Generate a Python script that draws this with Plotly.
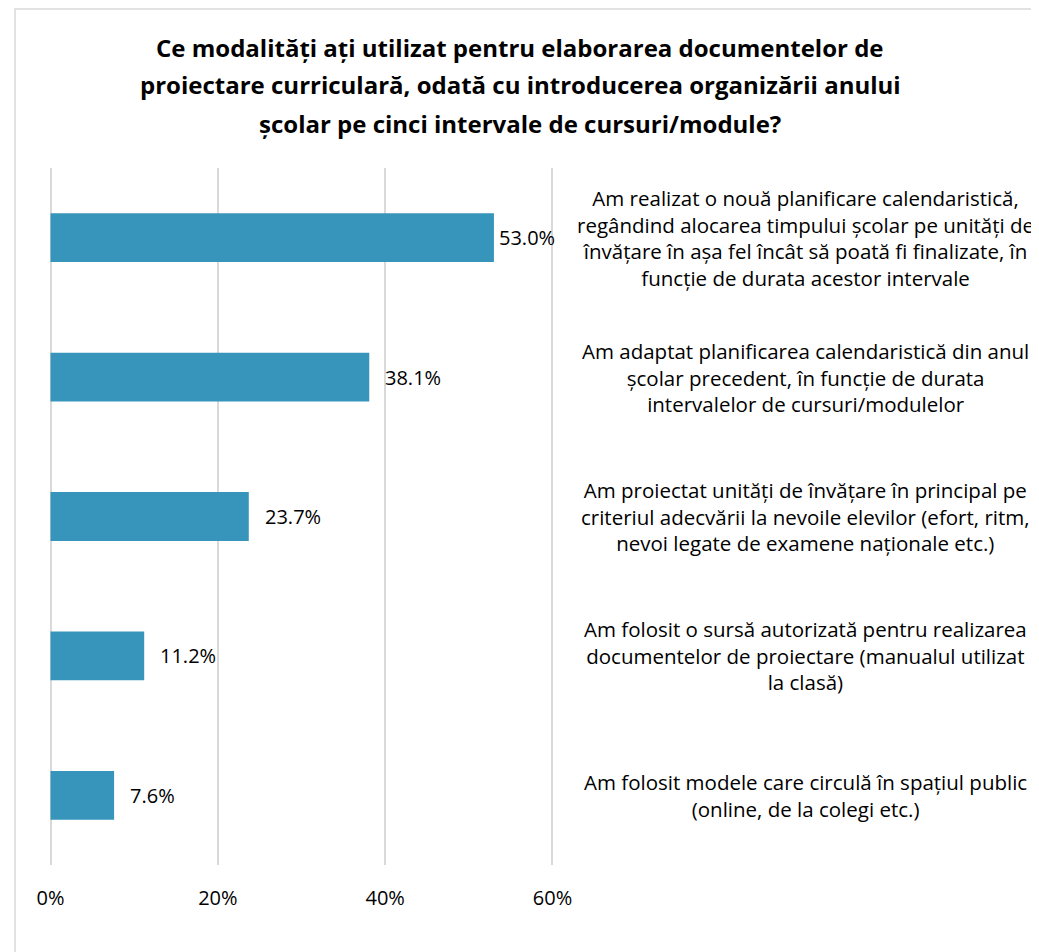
import plotly.graph_objects as go

# === Data ===
title_lines = [
    "Ce modalități ați utilizat pentru elaborarea documentelor de",
    "proiectare curriculară, odată cu introducerea organizării anului",
    "școlar pe cinci intervale de cursuri/module?",
]
categories = [
    "Am realizat o nouă planificare calendaristică,<br>regândind alocarea timpului școlar pe unități de<br>învățare în așa fel încât să poată fi finalizate, în<br>funcție de durata acestor intervale",
    "Am adaptat planificarea calendaristică din anul<br>școlar precedent, în funcție de durata<br>intervalelor de cursuri/modulelor",
    "Am proiectat unități de învățare în principal pe<br>criteriul adecvării la nevoile elevilor (efort, ritm,<br>nevoi legate de examene naționale etc.)",
    "Am folosit o sursă autorizată pentru realizarea<br>documentelor de proiectare (manualul utilizat<br>la clasă)",
    "Am folosit modele care circulă în spațiul public<br>(online, de la colegi etc.)",
]
values = [53.0, 38.1, 23.7, 11.2, 7.6]
x_ticks = [0, 20, 40, 60]
x_ticklabels = ["0%", "20%", "40%", "60%"]

FONT = "Open Sans"
BAR_COLOR = "#3795bb"
# figure is kept 8px smaller than the window so the page needs no scrollbars
FIG_W, FIG_H = 1031, 944
PLOT_L, PLOT_R = 40, 547
PLOT_W = PLOT_R - PLOT_L
PLOT_TOP, PLOT_BOTTOM, PLOT_H = 160, 857, 697


def px(x):
    # horizontal figure pixel -> paper coordinate
    return (x - PLOT_L) / PLOT_W


fig = go.Figure(go.Bar(
    x=values, y=categories, orientation="h",
    marker=dict(color=BAR_COLOR, line=dict(width=0)),
    width=0.35,
    hoverinfo="skip",
))

# value labels (the longest one sits closer to its bar, as in the original)
for v, cat in zip(values, categories):
    fig.add_annotation(
        x=v, y=cat, xref="x", yref="y",
        text=f"{v:.1f}%", showarrow=False,
        xanchor="left", yanchor="middle", xshift=14 if v < 50 else 3,
        font=dict(family=FONT, size=20, color="#000000"),
    )

# category labels on the right, centred
for cat in categories:
    fig.add_annotation(
        x=px(797), y=cat, xref="paper", yref="y",
        text=cat, showarrow=False, align="center",
        xanchor="center", yanchor="middle",
        font=dict(family=FONT, size=20.5, color="#000000"),
    )

# title lines
for i, line in enumerate(title_lines):
    fig.add_annotation(
        x=px(512), y=(PLOT_BOTTOM - (39 + 38 * i)) / PLOT_H, xref="paper", yref="paper",
        text=f"<b>{line}</b>", showarrow=False,
        xanchor="center", yanchor="middle",
        font=dict(family=FONT, size=24, color="#000000"),
    )

# chart border
fig.add_shape(type="rect", xref="paper", yref="paper",
              x0=px(7), x1=2.2, y0=-1.0, y1=1 + (PLOT_TOP - 1) / PLOT_H,
              line=dict(color="#d9d9d9", width=1.5), fillcolor="rgba(0,0,0,0)")

fig.update_xaxes(
    range=[-0.3, 60.3], tickvals=x_ticks, ticktext=x_ticklabels,
    showgrid=True, gridcolor="#d9d9d9", gridwidth=1.5,
    zeroline=False, showline=False,
    tickfont=dict(family=FONT, size=20, color="#000000"),
    ticklabelstandoff=19,
)
fig.update_yaxes(
    categoryorder="array", categoryarray=categories, autorange="reversed",
    showticklabels=False, showgrid=False, zeroline=False, showline=False,
)

fig.update_layout(
    width=FIG_W, height=FIG_H,
    margin=dict(l=PLOT_L, r=FIG_W - PLOT_R, t=PLOT_TOP, b=FIG_H - PLOT_BOTTOM),
    paper_bgcolor="#ffffff", plot_bgcolor="#ffffff",
    showlegend=False,
    font=dict(family=FONT),
)

fig.write_html("out.html")
